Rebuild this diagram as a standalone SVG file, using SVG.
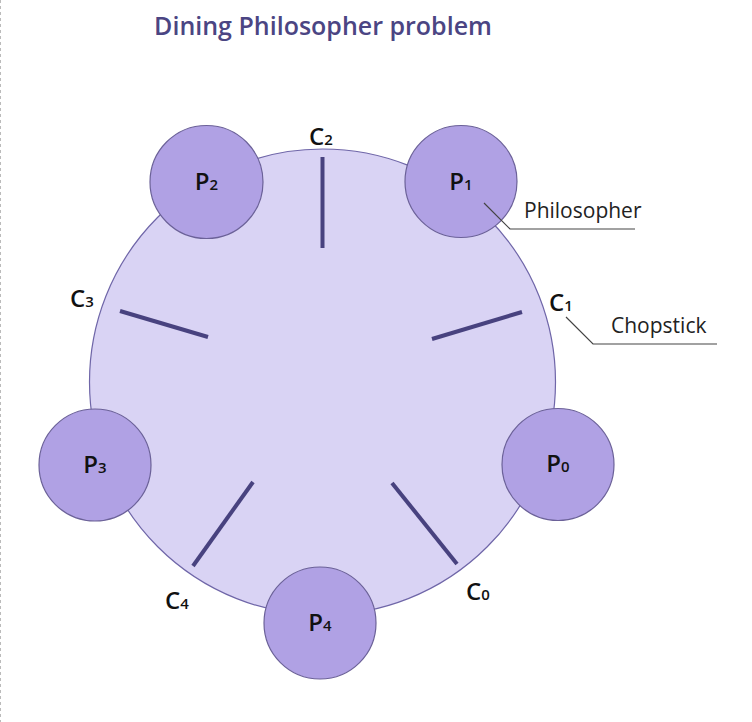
<svg xmlns="http://www.w3.org/2000/svg" width="752" height="722" viewBox="0 0 752 722">
<style>
.table{fill:#d9d3f4;stroke:#6f66a8;stroke-width:1.2}
.phil{fill:#b0a1e4;stroke:#6b6198;stroke-width:1.2}
.stick{stroke:#48427f;stroke-width:4;stroke-linecap:butt}
.lbl{font-family:"Open Sans","Noto Sans",sans-serif;font-weight:600;font-size:24px;fill:#111;text-anchor:middle}
.sub{font-size:15px}
.note{font-family:"Open Sans","Noto Sans",sans-serif;font-size:21px;fill:#222}
.lead{fill:none;stroke:#444;stroke-width:1.2}
.title{font-family:"Open Sans","Noto Sans",sans-serif;font-weight:600;font-size:25px;fill:#4b4583}
</style>
<rect width="752" height="722" fill="#fff"/>
<line x1="0.5" y1="0" x2="0.5" y2="722" stroke="#bbb" stroke-width="1" stroke-dasharray="3,3"/>
<text class="title" x="323" y="35" text-anchor="middle">Dining Philosopher problem</text>
<g id="table"><circle class="table" cx="322.5" cy="382" r="233"/></g>
<g id="chopsticks">
<line class="stick" x1="322.5" y1="157" x2="322.5" y2="248"/>
<line class="stick" x1="432" y1="339" x2="522" y2="312"/>
<line class="stick" x1="120" y1="311" x2="208" y2="337"/>
<line class="stick" x1="253" y1="482" x2="193" y2="566"/>
<line class="stick" x1="392" y1="483" x2="457" y2="564"/>
</g>
<g id="P1"><circle class="phil" cx="461" cy="181.5" r="56"/><text class="lbl" x="461" y="190">P<tspan class="sub">1</tspan></text></g>
<g id="P2"><circle class="phil" cx="206.5" cy="182" r="56.5"/><text class="lbl" x="206.5" y="190">P<tspan class="sub">2</tspan></text></g>
<g id="P3"><circle class="phil" cx="95" cy="465" r="56"/><text class="lbl" x="95" y="473">P<tspan class="sub">3</tspan></text></g>
<g id="P0"><circle class="phil" cx="558" cy="464.5" r="56"/><text class="lbl" x="558" y="472">P<tspan class="sub">0</tspan></text></g>
<g id="P4"><circle class="phil" cx="320" cy="623" r="56"/><text class="lbl" x="320" y="631">P<tspan class="sub">4</tspan></text></g>
<g id="labels">
<text class="lbl" x="321" y="145">C<tspan class="sub">2</tspan></text>
<text class="lbl" x="561" y="311">C<tspan class="sub">1</tspan></text>
<text class="lbl" x="82" y="307">C<tspan class="sub">3</tspan></text>
<text class="lbl" x="177" y="609">C<tspan class="sub">4</tspan></text>
<text class="lbl" x="478" y="600">C<tspan class="sub">0</tspan></text>
</g>
<g id="connectors">
<polyline class="lead" points="484,203 510,229 635,229"/>
<polyline class="lead" points="566,317 593,344 717,344"/>
</g>
<text class="note" x="524" y="218">Philosopher</text>
<text class="note" x="611" y="333">Chopstick</text>
</svg>
